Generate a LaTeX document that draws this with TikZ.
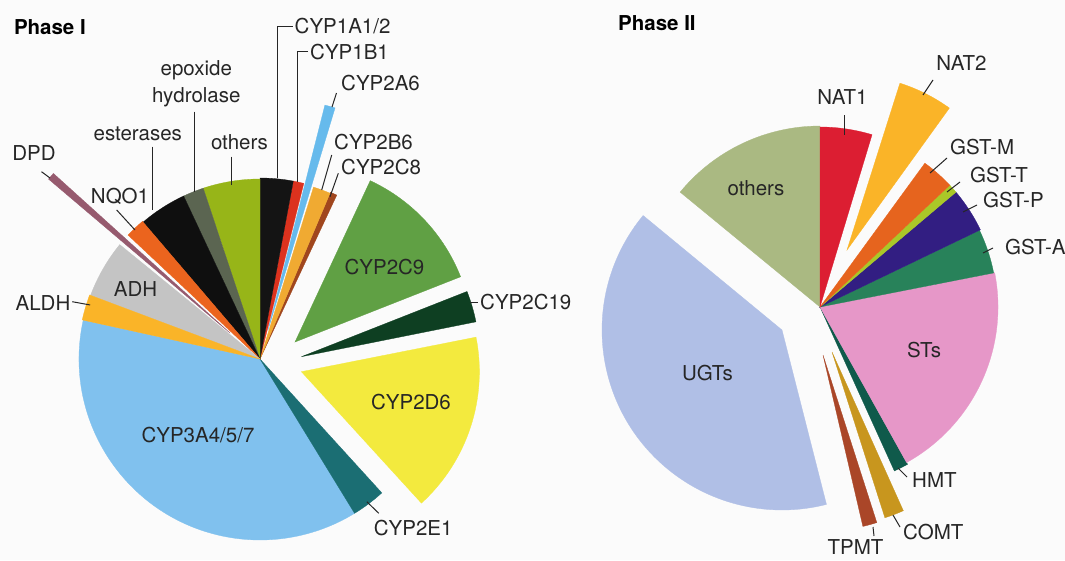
\documentclass[tikz,border=0pt]{standalone}
\usepackage{fontspec}
\setmainfont{TeX Gyre Heros}
% colours of the slices
\definecolor{txt}{HTML}{262626}
\definecolor{cyp3a4}{HTML}{80C1EE}
\definecolor{cyp2e1}{HTML}{1B6E73}
\definecolor{cyp2d6}{HTML}{F3EA3E}
\definecolor{cyp2c19}{HTML}{0E3F22}
\definecolor{cyp2c9}{HTML}{60A044}
\definecolor{cyp2c8}{HTML}{A0461E}
\definecolor{cyp2b6}{HTML}{F0AA32}
\definecolor{cyp2a6}{HTML}{66BAEC}
\definecolor{cyp1b1}{HTML}{DC321E}
\definecolor{cyp1a}{HTML}{141414}
\definecolor{othI}{HTML}{97B518}
\definecolor{epox}{HTML}{5B6551}
\definecolor{ester}{HTML}{0F0F0F}
\definecolor{nqo}{HTML}{EB641E}
\definecolor{dpd}{HTML}{965A6E}
\definecolor{adh}{HTML}{C4C4C4}
\definecolor{aldh}{HTML}{FAB428}
\definecolor{othII}{HTML}{AAB982}
\definecolor{ugt}{HTML}{B0BFE6}
\definecolor{tpmt}{HTML}{AA4628}
\definecolor{comt}{HTML}{C8961E}
\definecolor{hmt}{HTML}{0F5A4B}
\definecolor{sts}{HTML}{E697C8}
\definecolor{gsta}{HTML}{28825A}
\definecolor{gstp}{HTML}{321E82}
\definecolor{gstt}{HTML}{AAC828}
\definecolor{gstm}{HTML}{E6641E}
\definecolor{nat2}{HTML}{FAB428}
\definecolor{nat1}{HTML}{DC1E32}
\begin{document}
\begin{tikzpicture}[x=1pt,y=1pt,
    lbl/.style={font=\fontsize{20.5}{26.7}\selectfont,text=txt,inner sep=2pt,text height=15pt,text depth=0pt},
    ttl/.style={font=\bfseries\fontsize{20.5}{24}\selectfont,text=black,inner sep=0pt},
    lead/.style={draw=txt,line width=1pt}]
  \fill[white!97!gray] (0,0) rectangle (1065,-560);
  \useasboundingbox (0,0) rectangle (1065,-560);

  % Phase I
  \foreach \ax/\ay/\a/\b/\r/\c in {
      260/-359/167.6/301.5/181/cyp3a4, 260/-359/301.5/312.3/181/cyp2e1,
      301.4/-371.7/-47.6/11.2/178/cyp2d6, 301.4/-356.7/11.3/21.5/178/cyp2c19,
      295/-342/21.5/65/178/cyp2c9, 260/-359/64.9/67.1/181/cyp2c8,
      260/-359/67.1/72.7/180/cyp2b6, 268/-330/73.2/75.8/232/cyp2a6,
      260/-359/76/79.4/181/cyp1b1, 260/-359/79.4/90/181/cyp1a,
      260/-359/90/108.4/180/othI, 260/-359/108.4/115.1/180/epox,
      260/-359/115.1/130.5/180/ester, 260/-359/130.5/136.8/181/nqo,
      230/-333/137.9/139.7/238/dpd, 260/-359/140.8/159.4/181/adh,
      260/-359/159.4/167.6/182/aldh}
    \filldraw[fill=\c,draw=\c,line width=0.3pt] (\ax,\ay) -- ++(\a:\r) arc[start angle=\a, end angle=\b, radius=\r] -- cycle;

  % Phase II
  \foreach \ax/\ay/\a/\b/\r/\c in {
      820/-307/90/140.6/181/othII, 782/-330/140.5/284.3/180/ugt,
      823/-355/283.1/287.8/176/tpmt, 832/-352/287.7/294.2/174/comt,
      820/-307/294.4/299.1/180/hmt, 820/-307/299.1/371.1/178/sts,
      820/-307/11.1/25.7/177/gsta, 820/-307/25.7/40.2/178/gstp,
      820/-307/40.2/43.2/178/gstt, 820/-307/43.2/53.9/178/gstm,
      847/-250/54.2/72.4/175/nat2, 820/-307/73.2/90/180/nat1}
    \filldraw[fill=\c,draw=\c,line width=0.3pt] (\ax,\ay) -- ++(\a:\r) arc[start angle=\a, end angle=\b, radius=\r] -- cycle;

  % titles
  \node[ttl,anchor=west] (phI) at (13.8,-26.7) {Phase I};
  \node[ttl,anchor=west] (phII) at (618,-23) {Phase II};

  % labels, Phase I
  \node[lbl,anchor=west] (l1a) at (292.5,-26) {CYP1A1/2};
  \node[lbl,anchor=west] (l1b) at (308,-51.7) {CYP1B1};
  \node[lbl,anchor=west] (l2a6) at (339,-83.3) {CYP2A6};
  \node[lbl,anchor=west] (l2b6) at (332,-141.7) {CYP2B6};
  \node[lbl,anchor=west] (l2c8) at (339,-166.7) {CYP2C8};
  \node[lbl,align=center,text height=,text depth=] (lepox) at (196.3,-83.5) {epoxide\\hydrolase};
  \node[lbl] (lothI) at (239.4,-141.7) {others};
  \node[lbl] (lester) at (137.8,-133.3) {esterases};
  \node[lbl] (ldpd) at (34,-153) {DPD};
  \node[lbl] (lnqo) at (120,-195.5) {NQO1};
  \node[lbl] (ladh) at (135.5,-289) {ADH};
  \node[lbl] (laldh) at (43,-303.3) {ALDH};
  \node[lbl] (l2c9) at (384.5,-266.7) {CYP2C9};
  \node[lbl,anchor=west] (l2c19) at (478,-302) {CYP2C19};
  \node[lbl] (l2d6) at (411,-401.7) {CYP2D6};
  \node[lbl] (l3a4) at (198,-435) {CYP3A4/5/7};
  \node[lbl,anchor=west] (l2e1) at (371.7,-528.3) {CYP2E1};

  % labels, Phase II
  \node[lbl] (lnat1) at (842.5,-97) {NAT1};
  \node[lbl] (lnat2) at (961.5,-63) {NAT2};
  \node[lbl,anchor=west] (lgstm) at (948,-147) {GST-M};
  \node[lbl,anchor=west] (lgstt) at (968,-175) {GST-T};
  \node[lbl,anchor=west] (lgstp) at (981,-200) {GST-P};
  \node[lbl,anchor=west] (lgsta) at (1003,-247) {GST-A};
  \node[lbl] (lothII) at (756,-188) {others};
  \node[lbl] (lugt) at (707.5,-373) {UGTs};
  \node[lbl] (lsts) at (924,-350) {STs};
  \node[lbl,anchor=west] (lhmt) at (910,-480) {HMT};
  \node[lbl,anchor=west] (lcomt) at (901,-532) {COMT};
  \node[lbl,inner sep=0.5pt] (ltpmt) at (855.5,-547) {TPMT};

  % leaders
  \coordinate (p1a) at (277,-178.3);
  \coordinate (p1b) at (297,-181.7);
  \draw[lead] (l1a.west) -| (p1a);
  \draw[lead] (l1b.west) -| (p1b);
  \foreach \n/\x/\y/\u/\v in {
      dpd/41.5/-171.7/50/-178, nqo/116.7/-210/135/-230,
      ester/152.6/-146.7/152.6/-210, epox/194.6/-111.7/194.6/-191.7,
      othI/231.4/-156.7/231.4/-185, cypIIaf/336.5/-93/332/-107,
      cypIIbf/331.7/-155/321.7/-190, cypIIce/338.3/-173.3/330/-196.7,
      aldh/72.3/-301.7/90.2/-305, cypIIcn/470/-302/478/-302,
      cypIIeo/378.8/-513.3/366.8/-501.7,
      nati/844/-115/844/-135, natii/933/-80/923/-95,
      gstm/947/-158/930/-173, gstt/960/-182/947/-192,
      gstp/977/-205/963/-212, gsta/993/-248/983/-253,
      hmt/907/-477/898/-468, comt/900/-527/893/-515,
      tpmt/874/-536/873/-527}
  {
    \coordinate (\n A) at (\x,\y);
    \coordinate (\n B) at (\u,\v);
    \draw[lead] (\n A) -- (\n B);
  }
\end{tikzpicture}
\end{document}
